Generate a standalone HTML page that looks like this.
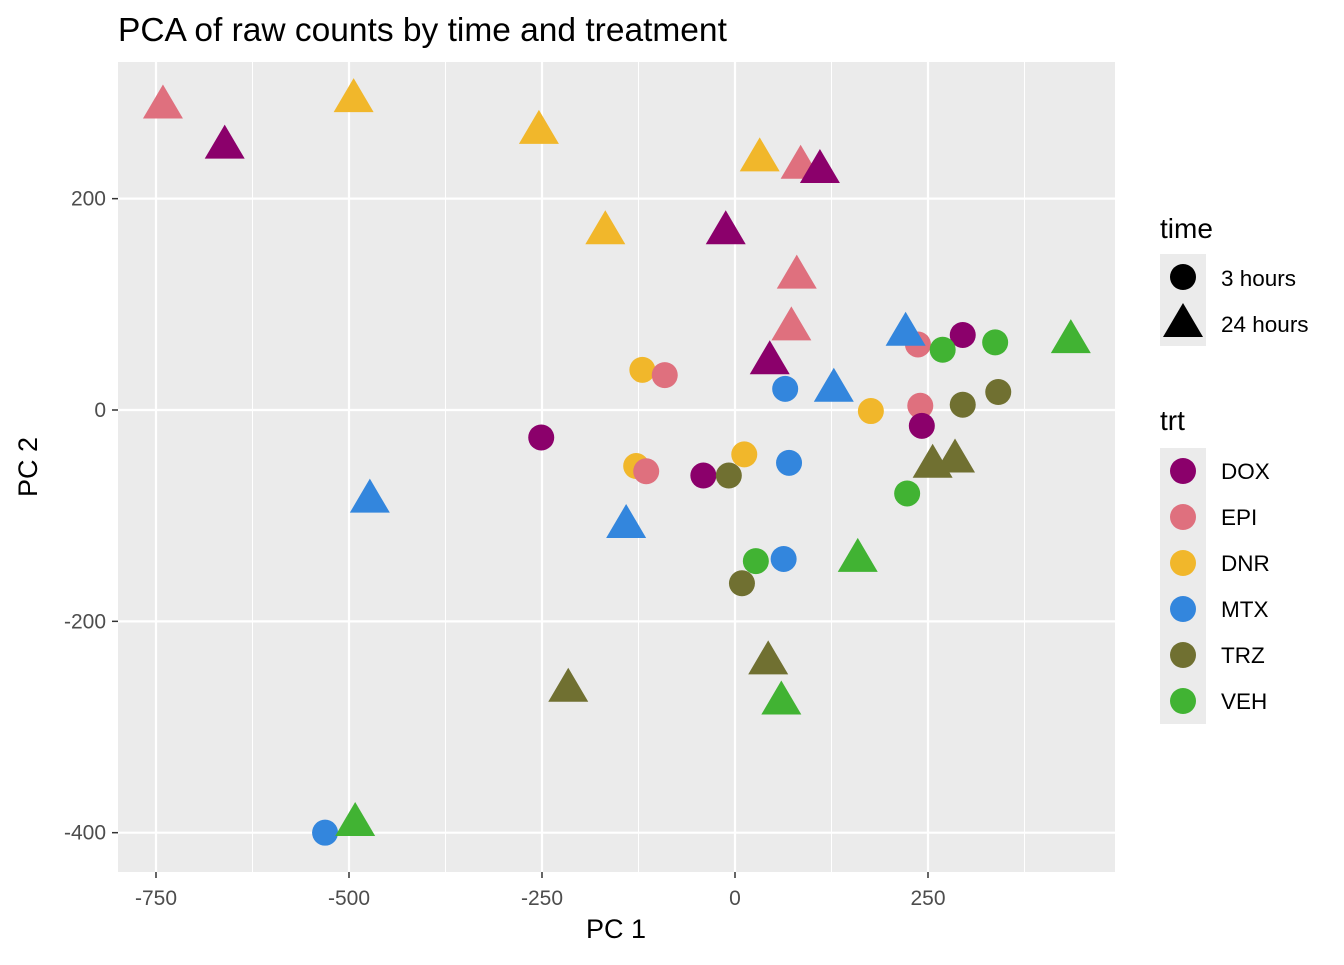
<!DOCTYPE html>
<html><head><meta charset="utf-8"><style>
body{margin:0;background:#fff;}
svg{font-family:"Liberation Sans",Arial,sans-serif;}
</style></head><body>
<svg id="chart" width="1344" height="960" xmlns="http://www.w3.org/2000/svg">
<text x="118" y="41" font-size="33.5" fill="#000">PCA of raw counts by time and treatment</text>
<rect x="118" y="62" width="997" height="810" fill="#EBEBEB"/>
<g id="grid"></g>
<g id="points"></g>
<g id="axes"></g>
<text x="616" y="938" font-size="27" text-anchor="middle">PC 1</text>
<text transform="translate(37,467) rotate(-90)" font-size="27" text-anchor="middle">PC 2</text>
<g id="legend"></g>
</svg>
<script>
const trts = ["DOX","EPI","DNR","MTX","TRZ","VEH"];
const colors = ["#8B006B","#DF707E","#F1B72B","#3386DD","#707031","#41B333"];
const xTicks = [-750,-500,-250,0,250];
const yTicks = [-400,-200,0,200];
const tri_x = [-741,-661,-494,-254,32,85,110,-168,-12,80,73,45,221,128,435,256,285,-473,-141,159,-216,43,60,-492];
const tri_y = [291,253,297,267,241,234,230,172,172,130,81,49,76,23,69,-49,-44,-82,-106,-138,-261,-235,-273,-388];
const tri_t = ["EPI","DOX","DNR","DNR","DNR","EPI","DOX","DNR","DOX","EPI","EPI","DOX","MTX","MTX","VEH","TRZ","TRZ","MTX","MTX","VEH","TRZ","TRZ","VEH","VEH"];
const cir_x = [-120,-91,-251,-128,-115,-41,-8,12,65,70,27,63,9,176,237,295,269,337,240,242,295,341,223,-531];
const cir_y = [38,33,-26,-53,-58,-62,-62,-42,20,-50,-143,-141,-164,-1,62,71,57,64,4,-15,5,17,-79,-400];
const cir_t = ["DNR","EPI","DOX","DNR","EPI","DOX","TRZ","DNR","MTX","MTX","VEH","MTX","TRZ","DNR","EPI","DOX","VEH","VEH","EPI","DOX","TRZ","TRZ","VEH","MTX"];

const NS="http://www.w3.org/2000/svg";
const X = v => 735 + v*0.772;
const Y = v => 410 - v*1.0567;
function mk(tag, attrs, parent){const e=document.createElementNS(NS,tag);for(const k in attrs)e.setAttribute(k,attrs[k]);parent.appendChild(e);return e;}
const grid=document.getElementById('grid'), pts=document.getElementById('points'), axes=document.getElementById('axes'), leg=document.getElementById('legend');
for(let v=-875; v<=500; v+=250){const x=X(v); if(x>118&&x<1115){const l=mk('line',{x1:x,x2:x,y1:62,y2:872,stroke:'#fff','stroke-width':1},grid);

}}
for(let v=-500; v<=400; v+=200){const y=Y(v+100); if(y>62&&y<872){const l=mk('line',{x1:118,x2:1115,y1:y,y2:y,stroke:'#fff','stroke-width':1},grid);

}}
xTicks.forEach(v=>{const x=X(v);
const l=mk('line',{x1:x,x2:x,y1:62,y2:872,stroke:'#fff','stroke-width':2.2},grid);


const t=mk('line',{x1:x,x2:x,y1:872,y2:878,stroke:'#333','stroke-width':1.5},axes);


const tx=mk('text',{x:x,y:905,'font-size':21,fill:'#4D4D4D','text-anchor':'middle'},axes);tx.textContent=v;

});
yTicks.forEach(v=>{const y=Y(v);
const l=mk('line',{x1:118,x2:1115,y1:y,y2:y,stroke:'#fff','stroke-width':2.2},grid);


const t=mk('line',{x1:112,x2:118,y1:y,y2:y,stroke:'#333','stroke-width':1.5},axes);


const tx=mk('text',{x:106,y:y+7,'font-size':21,fill:'#4D4D4D','text-anchor':'end'},axes);tx.textContent=v;

});
function triPath(cx,cy,s){return `M${cx},${cy-18*s} L${cx+20*s},${cy+16*s} L${cx-20*s},${cy+16*s} Z`;}
cir_x.forEach((v,i)=>{const c=mk('circle',{cx:X(v),cy:Y(cir_y[i]),r:13,fill:colors[trts.indexOf(cir_t[i])]},pts);

});
tri_x.forEach((v,i)=>{const p=mk('path',{d:triPath(X(v),Y(tri_y[i]),1),fill:colors[trts.indexOf(tri_t[i])]},pts);

});
let t1=mk('text',{x:1160,y:238,'font-size':28},leg);t1.textContent='time';


const bg1=mk('rect',{x:1160,y:254,width:46,height:92,fill:'#EBEBEB'},leg);


let c1=mk('circle',{cx:1183,cy:277,r:13,fill:'#000'},leg);


let p1=mk('path',{d:triPath(1183,321,1),fill:'#000'},leg);


[['3 hours',286],['24 hours',332]].forEach(a=>{const t=mk('text',{x:1221,y:a[1],'font-size':22.5},leg);t.textContent=a[0];

});
let t2=mk('text',{x:1160,y:430,'font-size':28},leg);t2.textContent='trt';


const bg2=mk('rect',{x:1160,y:448,width:46,height:276,fill:'#EBEBEB'},leg);


trts.forEach((n,i)=>{const cy=471+i*46;
const c=mk('circle',{cx:1183,cy:cy,r:13,fill:colors[i]},leg);


const t=mk('text',{x:1221,y:cy+8,'font-size':22.5},leg);t.textContent=n;

});
</script>
</body></html>
